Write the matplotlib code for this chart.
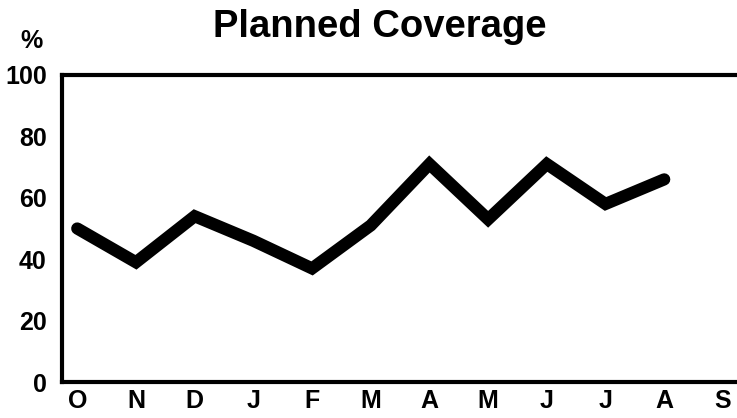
import matplotlib.pyplot as plt

plt.rcParams['font.family'] = ['Liberation Sans', 'DejaVu Sans']
plt.rcParams['font.weight'] = 'bold'

months = ['O', 'N', 'D', 'J', 'F', 'M', 'A', 'M', 'J', 'J', 'A', 'S']
coverage = [50, 39, 54, 46, 37, 51, 71, 53, 71, 58, 66]
yticks = [0, 20, 40, 60, 80, 100]

fig = plt.figure(figsize=(7.37, 4.18), dpi=100)
ax = fig.add_axes([62 / 737, 1 - 382 / 418, 675 / 737, 307 / 418])

x = list(range(len(coverage)))
ax.plot(x, coverage, color='black', lw=8.8, solid_capstyle='round',
        solid_joinstyle='miter')

ax.set_xlim(-0.26, 11.24)
ax.set_ylim(0, 100)
ax.set_xticks(range(len(months)))
ax.set_xticklabels(months)
ax.set_yticks(yticks)
ax.tick_params(length=0, labelsize=18)
ax.tick_params(axis='x', pad=5)
ax.tick_params(axis='y', pad=11)

for side in ['left', 'bottom', 'top']:
    ax.spines[side].set_linewidth(3)
    ax.spines[side].set_color('black')
ax.spines['right'].set_visible(False)

fig.text(380 / 737, 1 - 37 / 418, 'Planned Coverage', ha='center',
         va='baseline', fontsize=27.5, fontweight='bold')
fig.text(32 / 737, 1 - 41 / 418, '%', ha='center', va='center',
         fontsize=18, fontweight='bold')

fig.savefig('out.png', dpi=100)
